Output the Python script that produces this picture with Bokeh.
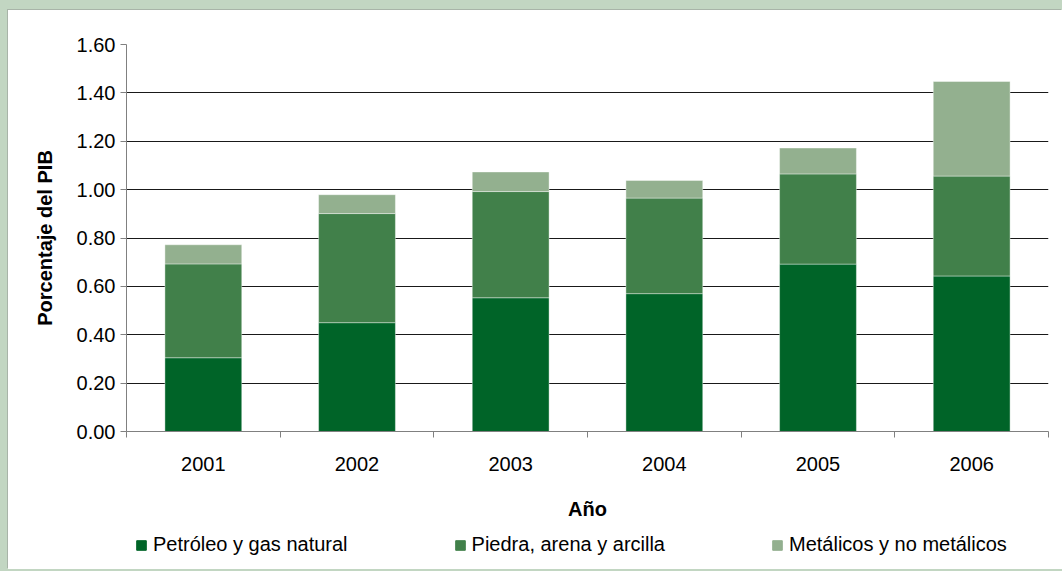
import numpy as np
from bokeh.plotting import figure
from bokeh.layouts import column
from bokeh.models import (Range1d, FixedTicker, NumeralTickFormatter, Legend, LegendItem,
                          GlobalInlineStyleSheet)
from bokeh.embed import file_html
from bokeh.resources import INLINE

# ---- data ----
years = ["2001", "2002", "2003", "2004", "2005", "2006"]
petroleo = [0.305, 0.450, 0.553, 0.570, 0.692, 0.643]
piedra = [0.388, 0.451, 0.439, 0.395, 0.373, 0.413]
metalicos = [0.079, 0.078, 0.081, 0.073, 0.107, 0.391]
series_names = ["Petróleo y gas natural", "Piedra, arena y arcilla", "Metálicos y no metálicos"]
colors = ["#006428", "#41804A", "#93B08F"]
y_ticks = [0.0, 0.2, 0.4, 0.6, 0.8, 1.0, 1.2, 1.4, 1.6]

FONT = "Liberation Sans"

n = len(years)
centers = [i + 0.5 for i in range(n)]
bounds = list(range(n + 1))

p = figure(width=1054, height=515, output_backend="svg", toolbar_location=None,
           x_range=Range1d(0, n), y_range=Range1d(0, 1.6),
           min_border_left=118, min_border_right=14, min_border_top=34, min_border_bottom=94)
p.stylesheets = [GlobalInlineStyleSheet(
    css="body{background:#c2d6c2;padding:10px 0 0 8px !important;overflow:hidden;}")]
p.border_fill_color = "white"
p.background_fill_color = "white"
p.outline_line_color = None

data = dict(x=centers, petroleo=petroleo, piedra=piedra, metalicos=metalicos)
keys = ["petroleo", "piedra", "metalicos"]
renderers = p.vbar_stack(keys, x="x", width=0.5, source=data, color=colors,
                         line_color="white", line_alpha=0.4, line_width=1)

# axes
xa = p.xaxis[0]
xa.ticker = FixedTicker(ticks=centers, minor_ticks=bounds)
xa.major_label_overrides = {c: y for c, y in zip(centers, years)}
xa.major_tick_out = 0
xa.major_tick_in = 0
xa.minor_tick_out = 6
xa.minor_tick_in = 0
xa.minor_tick_line_color = "#808080"
xa.axis_line_color = "#808080"
xa.major_label_standoff = 19
xa.major_label_text_font = FONT
xa.major_label_text_font_size = "20px"
xa.major_label_text_color = "black"
xa.axis_label = "Año"
xa.axis_label_text_font = FONT
xa.axis_label_text_font_size = "20px"
xa.axis_label_text_font_style = "bold"
xa.axis_label_text_color = "black"
xa.axis_label_standoff = 24

ya = p.yaxis[0]
ya.ticker = FixedTicker(ticks=y_ticks)
ya.formatter = NumeralTickFormatter(format="0.00")
ya.minor_tick_line_color = None
ya.major_tick_out = 6
ya.major_tick_in = 0
ya.major_tick_line_color = "#808080"
ya.axis_line_color = "#808080"
ya.major_label_standoff = 5
ya.major_label_text_font = FONT
ya.major_label_text_font_size = "20px"
ya.major_label_text_color = "black"
ya.axis_label = "Porcentaje del PIB"
ya.axis_label_text_font = FONT
ya.axis_label_text_font_size = "20px"
ya.axis_label_text_font_style = "bold"
ya.axis_label_text_color = "black"
ya.axis_label_standoff = 18

p.xgrid.grid_line_color = None
p.ygrid.grid_line_color = "black"
p.ygrid.grid_line_alpha = 0.9
p.ygrid.ticker = FixedTicker(ticks=y_ticks)

# legend strip under the chart (legend-only renderers hold no visible data)
pl = figure(width=1054, height=44, output_backend="svg", toolbar_location=None,
            x_range=Range1d(0, 1), y_range=Range1d(0, 1),
            x_axis_location=None, y_axis_location=None,
            min_border_left=0, min_border_right=0, min_border_top=0, min_border_bottom=0)
pl.border_fill_color = None
pl.background_fill_color = None
pl.outline_line_color = None
pl.grid.visible = False
leg_renderers = [pl.vbar(x=[np.nan], top=[np.nan], width=0.5, color=c,
                         line_color=c, line_alpha=1.0) for c in colors]
leg = Legend(items=[LegendItem(label=nm, renderers=[r]) for nm, r in zip(series_names, leg_renderers)],
             location=(9, 13), orientation="horizontal", padding=0, margin=0, spacing=106,
             glyph_width=12, glyph_height=12, label_standoff=6,
             label_text_font=FONT, label_text_font_size="20px", label_text_color="black",
             border_line_alpha=0, background_fill_alpha=0)
pl.add_layout(leg, "center")

layout = column(p, pl, spacing=0)
layout.styles = {"background-color": "white", "box-shadow": "-1px -1px 0 #a8b4a8"}
open("out.html", "w").write(file_html(layout, INLINE))
